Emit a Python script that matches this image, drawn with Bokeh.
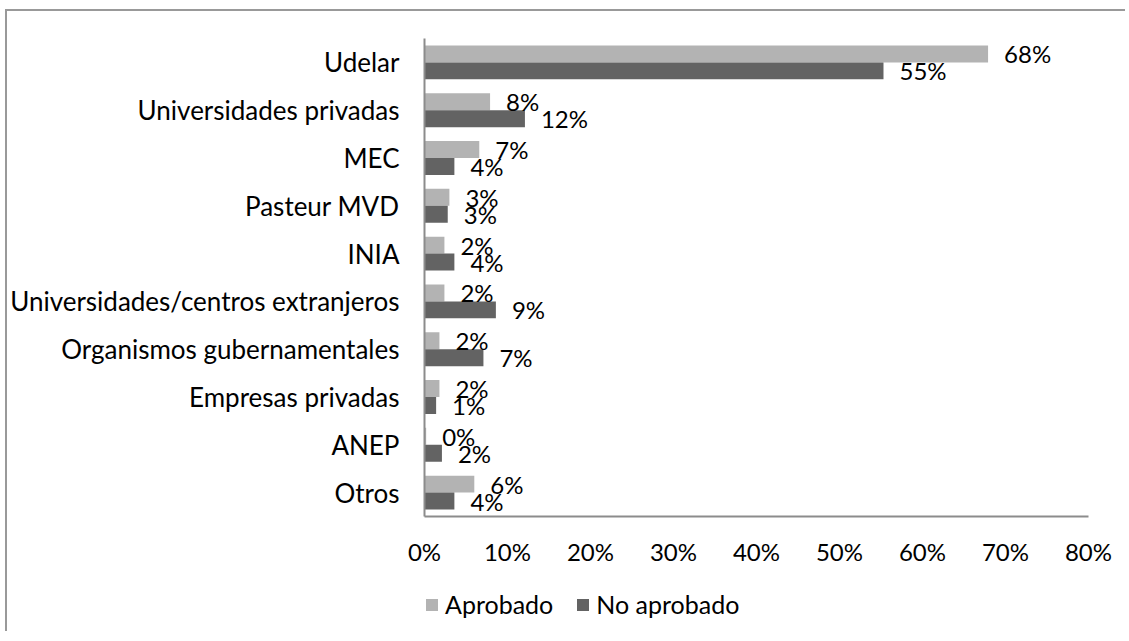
from bokeh.plotting import figure
from bokeh.layouts import column
from bokeh.models import (ColumnDataSource, FactorRange, Range1d, FixedTicker,
                          PrintfTickFormatter, Legend, LegendItem)
from bokeh.transform import dodge
from bokeh.core.properties import value
from bokeh.embed import file_html
from bokeh.resources import INLINE

categories = ["Udelar", "Universidades privadas", "MEC", "Pasteur MVD", "INIA",
              "Universidades/centros extranjeros", "Organismos gubernamentales",
              "Empresas privadas", "ANEP", "Otros"]
aprobado = [67.9, 7.9, 6.6, 3.0, 2.4, 2.4, 1.8, 1.8, 0.2, 6.0]
no_aprobado = [55.3, 12.1, 3.6, 2.8, 3.6, 8.6, 7.1, 1.4, 2.1, 3.6]
x_ticks = [0, 10, 20, 30, 40, 50, 60, 70, 80]
series_names = ["Aprobado", "No aprobado"]

FONT = "Lato"
LIGHT = "#b3b3b3"
DARK = "#636363"
AXIS = "#8c8c8c"

src = ColumnDataSource(dict(
    cat=categories,
    a=aprobado,
    n=no_aprobado,
    a_lbl=[f"{round(v)}%" for v in aprobado],
    n_lbl=[f"{round(v)}%" for v in no_aprobado],
))

W, H = 1118, 570
p = figure(width=W, height=H, output_backend="svg", toolbar_location=None,
           y_range=FactorRange(*categories[::-1]), x_range=Range1d(0, 80),
           min_border_left=415, min_border_right=37, min_border_top=27,
           min_border_bottom=H - 505)
p.outline_line_color = None
p.xgrid.visible = False
p.ygrid.visible = False
p.background_fill_color = "white"
p.border_fill_color = "white"

bh = 0.355
r_a = p.hbar(y=dodge("cat", bh / 2, range=p.y_range), right="a", left=0, height=bh,
             source=src, fill_color=LIGHT, line_color=None)
r_n = p.hbar(y=dodge("cat", -bh / 2, range=p.y_range), right="n", left=0, height=bh,
             source=src, fill_color=DARK, line_color=None)

p.text(x="a", y=dodge("cat", bh / 2, range=p.y_range), text="a_lbl", source=src,
       x_offset=16, text_baseline="middle", text_align="left",
       text_font=value(FONT), text_font_size="24px", text_color="black")
p.text(x="n", y=dodge("cat", -bh / 2, range=p.y_range), text="n_lbl", source=src,
       x_offset=16, text_baseline="middle", text_align="left",
       text_font=value(FONT), text_font_size="24px", text_color="black")

for ax in (p.xaxis[0], p.yaxis[0]):
    ax.axis_line_color = AXIS
    ax.axis_line_width = 2
    ax.major_tick_line_color = None
    ax.minor_tick_line_color = None
    ax.major_tick_in = 0
    ax.major_tick_out = 0
    ax.major_label_text_font = FONT
    ax.major_label_text_color = "black"

p.xaxis.major_label_text_font_size = "24px"
p.yaxis.major_label_text_font_size = "26px"
p.xaxis.ticker = FixedTicker(ticks=x_ticks)
p.xaxis.formatter = PrintfTickFormatter(format="%d%%")
p.xaxis.major_label_standoff = 20
p.yaxis.major_label_standoff = 25

# legend strip below the chart (its frame is aligned with the chart's frame)
LH = 50
lg = figure(width=W, height=LH, output_backend="svg", toolbar_location=None,
            x_axis_type=None, y_axis_type=None, x_range=Range1d(-200, -100),
            y_range=FactorRange(*categories[::-1]), min_border=0)
lg.outline_line_color = None
lg.xgrid.visible = False
lg.ygrid.visible = False
# legend-only renderers: same data, zero height and outside this strip's x range
d_a = lg.hbar(y="cat", right="a", left=0, height=0, source=src,
              fill_color=LIGHT, line_color=None)
d_n = lg.hbar(y="cat", right="n", left=0, height=0, source=src,
              fill_color=DARK, line_color=None)
legend = Legend(items=[LegendItem(label=series_names[0], renderers=[d_a]),
                       LegendItem(label=series_names[1], renderers=[d_n])],
                orientation="horizontal", location=(0, 12),
                glyph_width=15, glyph_height=15, label_standoff=6, spacing=22,
                padding=0, margin=0, border_line_color=None,
                background_fill_alpha=0, label_text_font=FONT,
                label_text_font_size="25px", label_text_color="black",
                label_height=28)
lg.add_layout(legend, "center")

layout = column(p, lg, spacing=0)
layout.styles = {"border-left": "2px solid #999999", "border-top": "2px solid #999999",
                 "margin-left": "5px", "margin-top": "9px"}

open("out.html", "w").write(file_html(layout, INLINE))
